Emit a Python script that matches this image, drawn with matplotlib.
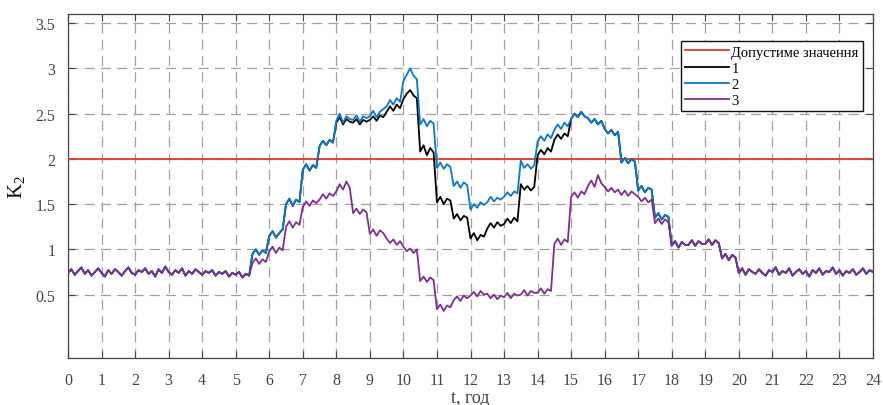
import numpy as np
import matplotlib
matplotlib.use("Agg")
import matplotlib.pyplot as plt

# ---------------- data (sampled every 0.1 h) ----------------
step_h = 0.1
# shared by all three series, 0.0 .. 5.4 h
common_am = [0.74,0.78,0.72,0.76,0.80,0.73,0.77,0.71,0.75,0.79,
             0.74,0.70,0.77,0.73,0.78,0.75,0.71,0.76,0.80,0.74,
             0.72,0.77,0.75,0.79,0.73,0.76,0.70,0.78,0.74,0.81,
             0.75,0.72,0.77,0.74,0.79,0.71,0.76,0.73,0.78,0.75,
             0.72,0.76,0.74,0.77,0.71,0.75,0.73,0.76,0.70,0.74,
             0.72,0.75,0.69,0.73,0.71]
# series 2 (blue), 5.5 .. 17.9 h
s2_mid = [0.95,1.00,0.94,0.99,0.96, 1.15,1.20,1.13,1.18,1.22,
          1.50,1.56,1.48,1.55,1.52, 1.88,1.94,1.87,1.93,1.90,
          2.14,2.20,2.15,2.21,2.18, 2.42,2.50,2.40,2.47,2.44,
          2.43,2.48,2.41,2.47,2.45, 2.47,2.53,2.46,2.52,2.55,
          2.58,2.65,2.60,2.67,2.63, 2.86,2.93,3.00,2.92,2.88,
          2.38,2.44,2.36,2.42,2.39, 1.90,1.96,1.89,1.94,1.91,
          1.70,1.75,1.68,1.74,1.71, 1.44,1.50,1.46,1.52,1.49,
          1.52,1.58,1.53,1.57,1.55, 1.58,1.63,1.59,1.64,1.62,
          1.98,1.90,1.94,1.89,1.93, 2.19,2.25,2.20,2.27,2.23,
          2.32,2.38,2.33,2.40,2.36, 2.44,2.50,2.46,2.52,2.47,
          2.45,2.40,2.44,2.38,2.42, 2.33,2.28,2.32,2.26,2.30,
          1.96,2.01,1.95,2.00,1.97, 1.65,1.70,1.63,1.68,1.66,
          1.35,1.40,1.33,1.38,1.36]
# series 1 (black) where it differs from series 2, 8.0 .. 14.9 h
s1_mid = [2.40,2.46,2.38,2.44,2.41, 2.40,2.44,2.38,2.43,2.41,
          2.43,2.47,2.42,2.48,2.46, 2.52,2.58,2.53,2.60,2.56,
          2.66,2.72,2.76,2.70,2.67, 2.08,2.15,2.04,2.12,2.07,
          1.52,1.58,1.50,1.56,1.54, 1.34,1.39,1.32,1.37,1.35,
          1.12,1.18,1.10,1.16,1.14, 1.23,1.29,1.24,1.30,1.26,
          1.28,1.34,1.29,1.35,1.31, 1.72,1.66,1.70,1.65,1.69,
          2.04,2.10,2.05,2.12,2.08, 2.21,2.27,2.22,2.28,2.25]
s1_start_h = 8.0
# series 3 (purple), 5.5 .. 17.9 h
s3_mid = [0.85,0.90,0.84,0.89,0.86, 0.98,1.03,0.96,1.02,0.99,
          1.25,1.31,1.24,1.30,1.27, 1.47,1.53,1.48,1.54,1.51,
          1.55,1.61,1.56,1.62,1.59, 1.64,1.72,1.66,1.75,1.68,
          1.40,1.45,1.39,1.44,1.41, 1.17,1.22,1.15,1.21,1.18,
          1.12,1.07,1.11,1.05,1.09, 1.03,0.98,1.01,0.96,1.00,
          0.65,0.70,0.64,0.69,0.66, 0.34,0.39,0.32,0.38,0.36,
          0.44,0.48,0.43,0.49,0.46, 0.49,0.53,0.48,0.54,0.50,
          0.51,0.46,0.50,0.45,0.49, 0.47,0.52,0.46,0.51,0.49,
          0.50,0.55,0.49,0.54,0.52, 0.52,0.57,0.51,0.56,0.54,
          1.06,1.12,1.05,1.11,1.08, 1.58,1.63,1.57,1.64,1.61,
          1.70,1.76,1.69,1.82,1.73, 1.69,1.64,1.68,1.63,1.66,
          1.60,1.65,1.59,1.64,1.61, 1.58,1.53,1.57,1.52,1.55,
          1.29,1.34,1.28,1.33,1.30]
# shared by all three series, 18.0 .. 24.0 h
common_pm = [1.04,1.09,1.02,1.08,1.05, 1.05,1.10,1.04,1.09,1.06,
             1.06,1.11,1.05,1.10,1.07, 0.90,0.95,0.88,0.94,0.91,
             0.74,0.79,0.72,0.78,0.75,
             0.73,0.78,0.74,0.71,0.77,0.75,0.80,0.72,0.76,0.74,
             0.79,0.71,0.75,0.78,0.73,0.76,0.70,0.77,0.74,0.79,
             0.72,0.76,0.75,0.80,0.73,0.77,0.71,0.76,0.74,0.78,
             0.72,0.75,0.79,0.73,0.77,0.75]
limit_value = 2.0
x_ticks = list(range(0, 25))
y_ticks = [0.5, 1, 1.5, 2, 2.5, 3, 3.5]
y_tick_labels = ['0.5', '1', '1.5', '2', '2.5', '3', '3.5']
legend_labels = ["Допустиме значення", "1", "2", "3"]

# ---------------- build series ----------------
s2 = np.array(common_am + s2_mid + common_pm)
s3 = np.array(common_am + s3_mid + common_pm)
s1 = s2.copy()
i0 = int(round(s1_start_h / step_h))
s1[i0:i0 + len(s1_mid)] = s1_mid
t = np.arange(len(s2)) * step_h

# ---------------- style ----------------
plt.rcParams['font.family'] = ['Liberation Serif', 'DejaVu Serif']
plt.rcParams['mathtext.fontset'] = 'custom'
plt.rcParams['mathtext.rm'] = 'Liberation Serif'
plt.rcParams['mathtext.it'] = 'Liberation Serif:italic'

fig = plt.figure(figsize=(8.83, 4.06), dpi=100)
ax = fig.add_axes([68/883, 47/406, 805/883, 344/406])

c_red = '#e2382f'
c_blk = '#000000'
c_blu = '#0a78c2'
c_pur = '#7e2f8e'

ax.axhline(limit_value, color=c_red, lw=1.3, label=legend_labels[0], zorder=3)
ax.plot(t, s1, color=c_blk, lw=1.3, label=legend_labels[1], zorder=4)
ax.plot(t, s2, color=c_blu, lw=1.3, label=legend_labels[2], zorder=5)
ax.plot(t, s3, color=c_pur, lw=1.3, label=legend_labels[3], zorder=6)

ax.set_xlim(0, 24)
ax.set_ylim(-0.2, 3.6)
ax.set_xticks(x_ticks)
ax.set_yticks(y_ticks)
ax.set_yticklabels(y_tick_labels)
ax.grid(True, color='#a0a0a0', linestyle=(0, (8, 5)), lw=0.9)
ax.tick_params(direction='in', length=5, width=0.8, top=True, right=True,
               labelsize=11.5, labelcolor='#444444', color='#444444')
ax.tick_params(axis='x', pad=10)
ax.tick_params(axis='y', pad=9)
for sp in ax.spines.values():
    sp.set_color('#444444')
    sp.set_linewidth(0.9)

ax.set_xlabel('t, год', fontsize=13, color='#444444', labelpad=1)
ax.set_ylabel(r'$\mathrm{K}_2$', fontsize=15, color='#111111', labelpad=6)

leg = ax.legend(loc='upper right', bbox_to_anchor=(0.9876, 0.9215),
                borderaxespad=0.0,
                fontsize=10.5, handlelength=3.0, handletextpad=0.15,
                labelspacing=0.2, borderpad=0.3, fancybox=False,
                framealpha=1, edgecolor='#111111')
leg.get_frame().set_linewidth(1.0)

fig.savefig('out.png', dpi=100)
